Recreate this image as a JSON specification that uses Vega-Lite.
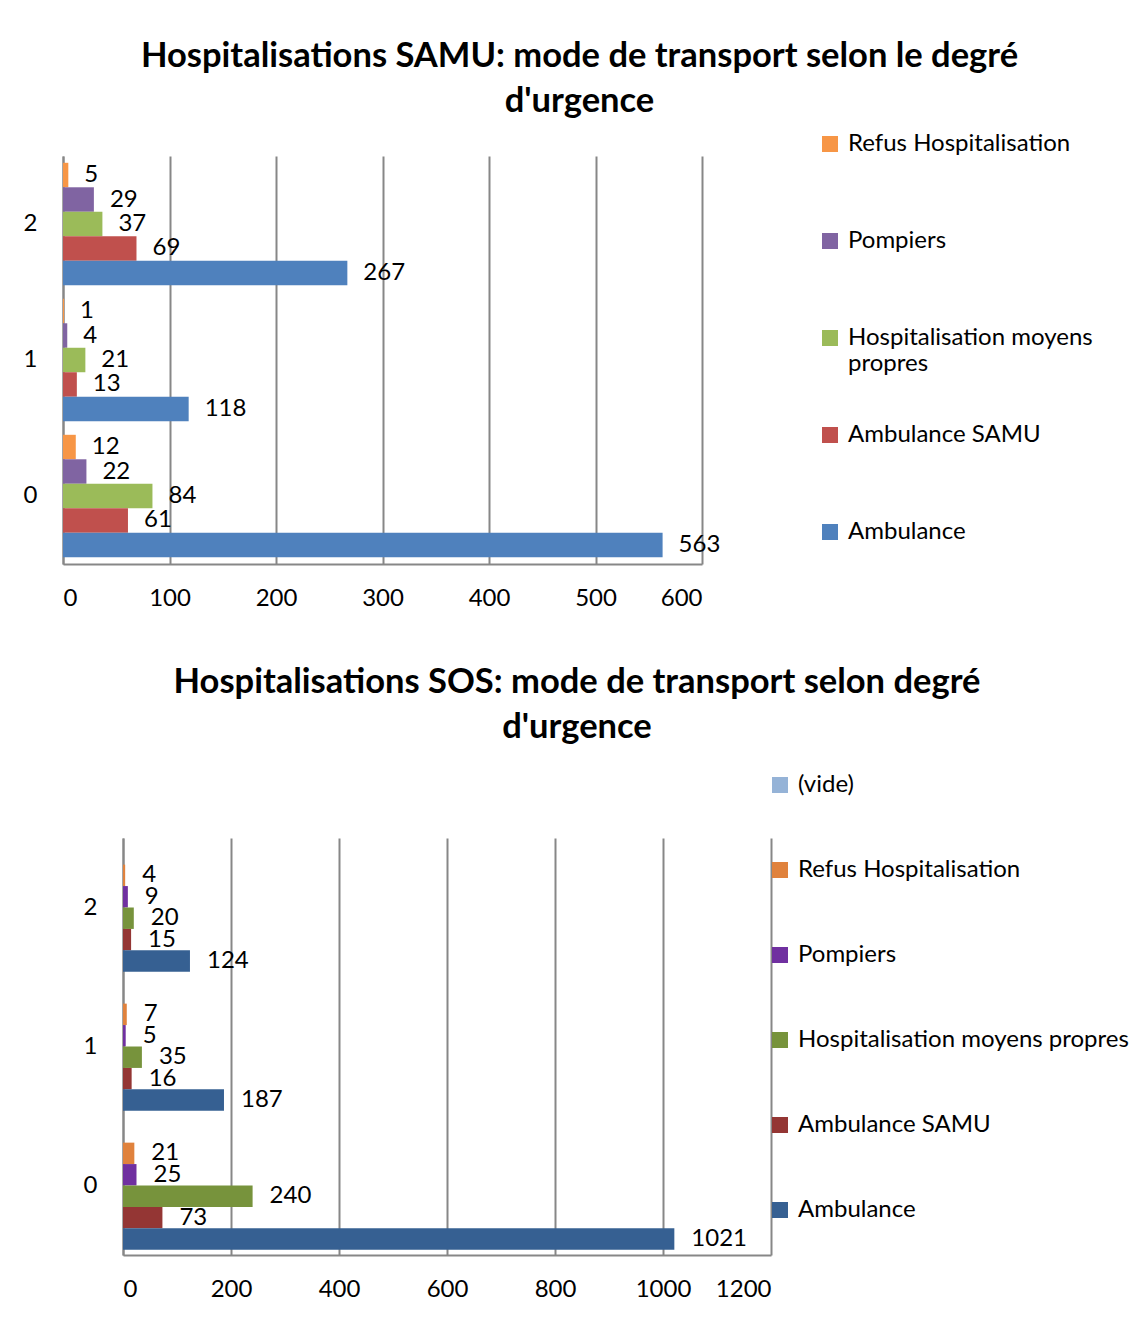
{
  "$schema": "https://vega.github.io/schema/vega-lite/v6.json",
  "padding": {"left": 23, "top": 38, "right": 0, "bottom": 0},
  "background": "white",
  "spacing": 54,
  "config": {
    "font": "Lato",
    "view": {"stroke": null},
    "axis": {
      "labelFont": "Lato", "labelFontSize": 24, "labelColor": "#000000",
      "domainColor": "#878787", "domainWidth": 2,
      "gridColor": "#878787", "gridWidth": 2,
      "ticks": false, "title": null
    },
    "legend": {"labelFont": "Lato", "labelFontSize": 24, "labelColor": "#000000", "padding": 0, "labelLimit": 500},
    "title": {"font": "Lato", "fontSize": 34.5, "fontWeight": "bold", "color": "#000000", "lineHeight": 45, "anchor": "middle"}
  },
  "datasets": {
    "samu": [
      {"degre": "2", "mode": "Refus Hospitalisation", "n": 5},
      {"degre": "2", "mode": "Pompiers", "n": 29},
      {"degre": "2", "mode": "Hospitalisation moyens propres", "n": 37},
      {"degre": "2", "mode": "Ambulance SAMU", "n": 69},
      {"degre": "2", "mode": "Ambulance", "n": 267},
      {"degre": "1", "mode": "Refus Hospitalisation", "n": 1},
      {"degre": "1", "mode": "Pompiers", "n": 4},
      {"degre": "1", "mode": "Hospitalisation moyens propres", "n": 21},
      {"degre": "1", "mode": "Ambulance SAMU", "n": 13},
      {"degre": "1", "mode": "Ambulance", "n": 118},
      {"degre": "0", "mode": "Refus Hospitalisation", "n": 12},
      {"degre": "0", "mode": "Pompiers", "n": 22},
      {"degre": "0", "mode": "Hospitalisation moyens propres", "n": 84},
      {"degre": "0", "mode": "Ambulance SAMU", "n": 61},
      {"degre": "0", "mode": "Ambulance", "n": 563}
    ],
    "sos": [
      {"degre": "2", "mode": "Refus Hospitalisation", "n": 4},
      {"degre": "2", "mode": "Pompiers", "n": 9},
      {"degre": "2", "mode": "Hospitalisation moyens propres", "n": 20},
      {"degre": "2", "mode": "Ambulance SAMU", "n": 15},
      {"degre": "2", "mode": "Ambulance", "n": 124},
      {"degre": "1", "mode": "Refus Hospitalisation", "n": 7},
      {"degre": "1", "mode": "Pompiers", "n": 5},
      {"degre": "1", "mode": "Hospitalisation moyens propres", "n": 35},
      {"degre": "1", "mode": "Ambulance SAMU", "n": 16},
      {"degre": "1", "mode": "Ambulance", "n": 187},
      {"degre": "0", "mode": "Refus Hospitalisation", "n": 21},
      {"degre": "0", "mode": "Pompiers", "n": 25},
      {"degre": "0", "mode": "Hospitalisation moyens propres", "n": 240},
      {"degre": "0", "mode": "Ambulance SAMU", "n": 73},
      {"degre": "0", "mode": "Ambulance", "n": 1021}
    ]
  },
  "vconcat": [
    {
      "width": 639,
      "height": 408,
      "data": {"name": "samu"},
      "title": {"text": ["Hospitalisations SAMU: mode de transport selon le degré", "d'urgence"], "offset": 13, "dx": 197},
      "encoding": {
        "y": {
          "field": "degre", "type": "nominal", "sort": ["2", "1", "0"],
          "scale": {"paddingInner": 0.1, "paddingOuter": 0.05},
          "axis": {"labelPadding": 26, "grid": false, "labelAngle": 0}
        },
        "x": {
          "field": "n", "type": "quantitative",
          "scale": {"domain": [0, 600], "nice": false},
          "axis": {"values": [0, 100, 200, 300, 400, 500, 600], "format": "d", "labelPadding": 22, "grid": true}
        },
        "yOffset": {
          "field": "mode", "type": "nominal",
          "scale": {"domain": ["Refus Hospitalisation", "Pompiers", "Hospitalisation moyens propres", "Ambulance SAMU", "Ambulance"], "paddingInner": 0, "paddingOuter": 0}
        }
      },
      "layer": [
        {
          "mark": {"type": "bar"},
          "encoding": {
            "color": {
              "field": "mode", "type": "nominal",
              "scale": {
                "domain": ["Refus Hospitalisation", "Pompiers", "Hospitalisation moyens propres", "Ambulance SAMU", "Ambulance"],
                "range": ["#F79646", "#8064A2", "#9BBB59", "#C0504D", "#4F81BD"]
              },
              "legend": {
                "title": null, "orient": "none", "legendX": 755, "legendY": -24,
                "symbolType": "square", "symbolSize": 256, "symbolStrokeWidth": 0,
                "labelOffset": 6, "rowPadding": 47, "gridAlign": "all", "labelBaseline": "middle",
                "labelExpr": "datum.label == 'Hospitalisation moyens propres' ? ['Hospitalisation moyens', 'propres'] : datum.label"
              }
            }
          }
        },
        {
          "mark": {"type": "text", "align": "left", "baseline": "middle", "dx": 16, "fontSize": 24, "color": "#000000"},
          "encoding": {"text": {"field": "n", "type": "quantitative"}}
        }
      ]
    },
    {
      "spacing": 0,
      "hconcat": [
        {
          "width": 20,
          "height": 10,
          "data": {"values": []},
          "mark": {"type": "point"}
        },
        {
          "width": 648,
          "height": 417,
          "data": {"name": "sos"},
          "title": {"text": ["Hospitalisations SOS: mode de transport selon degré", "d'urgence"], "offset": 93, "dx": 130},
          "encoding": {
            "y": {
              "field": "degre", "type": "nominal", "sort": ["2", "1", "0"],
              "scale": {"paddingInner": 0.075, "paddingOuter": 0.0375},
              "axis": {"labelPadding": 26, "grid": false, "labelAngle": 0}
            },
            "x": {
              "field": "n", "type": "quantitative",
              "scale": {"domain": [0, 1200], "nice": false},
              "axis": {"values": [0, 200, 400, 600, 800, 1000, 1200], "format": "d", "labelPadding": 22, "grid": true}
            },
            "yOffset": {
              "field": "mode", "type": "nominal",
              "scale": {"domain": ["(vide)", "Refus Hospitalisation", "Pompiers", "Hospitalisation moyens propres", "Ambulance SAMU", "Ambulance"], "paddingInner": 0, "paddingOuter": 0}
            }
          },
          "layer": [
            {
              "mark": {"type": "bar"},
              "encoding": {
                "color": {
                  "field": "mode", "type": "nominal",
                  "scale": {
                    "domain": ["(vide)", "Refus Hospitalisation", "Pompiers", "Hospitalisation moyens propres", "Ambulance SAMU", "Ambulance"],
                    "range": ["#95B3D7", "#E0823D", "#7030A0", "#77933C", "#943634", "#366092"]
                  },
                  "legend": {
                    "title": null, "orient": "none", "legendX": 705, "legendY": -65,
                    "symbolType": "square", "symbolSize": 256, "symbolStrokeWidth": 0,
                    "labelOffset": 6, "rowPadding": 61, "labelBaseline": "middle"
                  }
                }
              }
            },
            {
              "mark": {"type": "text", "align": "left", "baseline": "middle", "dx": 17, "fontSize": 24, "color": "#000000"},
              "encoding": {"text": {"field": "n", "type": "quantitative"}}
            }
          ]
        }
      ]
    }
  ],
  "resolve": {"scale": {"color": "independent", "x": "independent", "y": "independent", "yOffset": "independent"}, "legend": {"color": "independent"}}
}
